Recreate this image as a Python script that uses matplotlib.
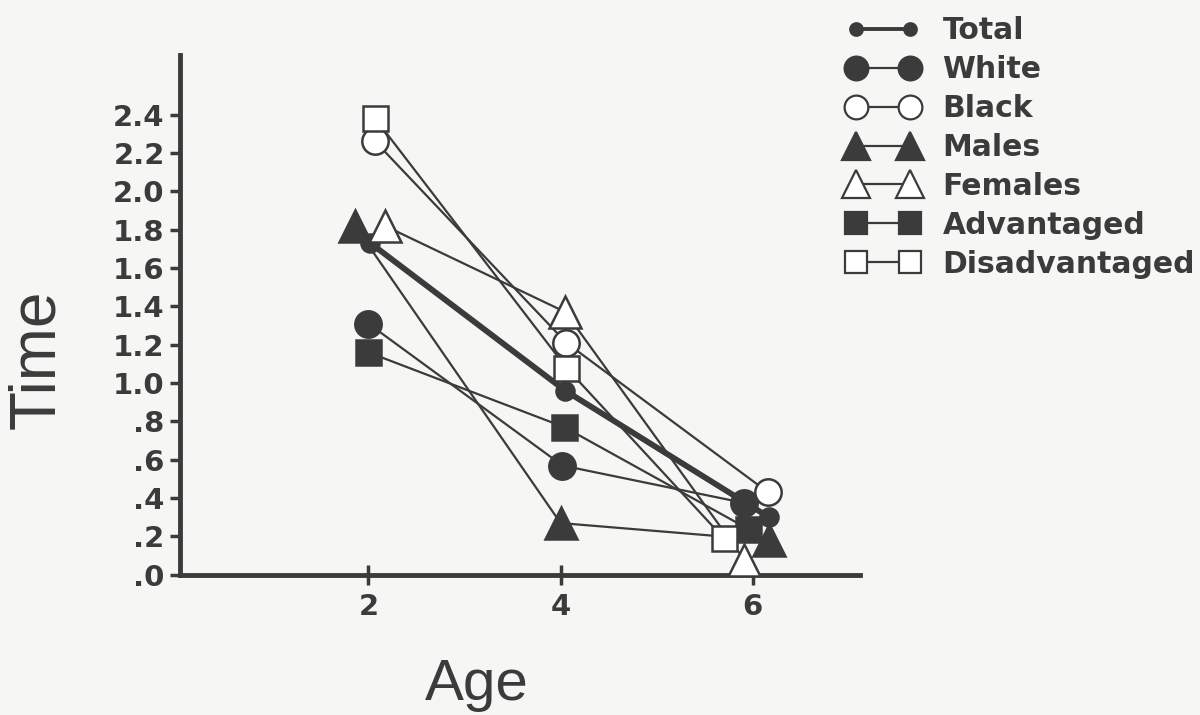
import matplotlib
matplotlib.use("Agg")
import matplotlib.pyplot as plt
from matplotlib.lines import Line2D

# Age groups and mean times per group
ages = [2, 4, 6]
total = [1.73, 0.96, 0.30]
white = [1.31, 0.57, 0.375]
black = [2.26, 1.21, 0.43]
males = [1.82, 0.27, 0.18]
females = [1.82, 1.37, 0.08]
advantaged = [1.16, 0.77, 0.24]
disadvantaged = [2.38, 1.08, 0.19]

y_ticks = [0.0, 0.2, 0.4, 0.6, 0.8, 1.0, 1.2, 1.4, 1.6, 1.8, 2.0, 2.2, 2.4]
y_tick_labels = [".0", ".2", ".4", ".6", ".8", "1.0", "1.2", "1.4", "1.6",
                 "1.8", "2.0", "2.2", "2.4"]
x_tick_labels = ["2", "4", "6"]

INK = "#3b3b3b"
PAPER = "#f6f6f4"

# horizontal nudges so overlapping markers stay visible
nudge = {
    "Total": [0.02, 0.05, 0.17],
    "White": [0.0, 0.02, -0.09],
    "Black": [0.07, 0.06, 0.16],
    "Males": [-0.14, 0.0, 0.17],
    "Females": [0.17, 0.05, -0.09],
    "Advantaged": [0.0, 0.04, -0.05],
    "Disadvantaged": [0.07, 0.06, -0.30],
}

series = [
    ("Total", total, dict(marker="o", ms=13, mfc=INK, lw=4.2, zorder=2.5)),
    ("White", white, dict(marker="o", ms=19, mfc=INK, lw=1.6, zorder=3)),
    ("Black", black, dict(marker="o", ms=19, mfc="white", lw=1.6, zorder=3)),
    ("Males", males, dict(marker="^", ms=23, mfc=INK, lw=1.6, zorder=3)),
    ("Females", females, dict(marker="^", ms=23, mfc="white", lw=1.6, zorder=3)),
    ("Advantaged", advantaged, dict(marker="s", ms=18, mfc=INK, lw=1.6, zorder=3)),
    ("Disadvantaged", disadvantaged, dict(marker="s", ms=18, mfc="white", lw=1.6, zorder=3)),
]

fig = plt.figure(figsize=(12, 7.15), dpi=100, facecolor=PAPER)
ax = fig.add_axes([0.15, 0.196, 0.567, 0.727])
ax.set_facecolor(PAPER)

handles = []
for name, vals, st in series:
    xs = [a + d for a, d in zip(ages, nudge[name])]
    ax.plot(xs, vals, color=INK, mec=INK, mew=1.8, marker=st["marker"],
            ms=st["ms"], mfc=st["mfc"], lw=st["lw"], zorder=st["zorder"])
    handles.append(Line2D([], [], color=INK, mec=INK, mew=1.6,
                          marker=st["marker"],
                          ms=9 if name == "Total" else st["ms"] * 0.9,
                          mfc=st["mfc"], lw=1.6 if name != "Total" else 2.8,
                          label=name))

ax.set_xlim(0.04, 7.12)
ax.set_ylim(0, 2.71)

for side in ("top", "right"):
    ax.spines[side].set_visible(False)
for side in ("left", "bottom"):
    ax.spines[side].set_linewidth(3.5)
    ax.spines[side].set_color(INK)

ax.set_xticks(ages)
ax.set_xticklabels(x_tick_labels)
ax.set_yticks(y_ticks)
ax.set_yticklabels(y_tick_labels)
ax.tick_params(axis="x", direction="inout", length=14, width=2.5, color=INK,
               labelsize=21, pad=6, labelcolor=INK)
ax.tick_params(axis="y", direction="out", length=7, width=2.5, color=INK,
               labelsize=21, pad=4, labelcolor=INK)
for lab in ax.get_xticklabels() + ax.get_yticklabels():
    lab.set_fontweight("bold")

fig.text(0.031, 0.497, "Time", rotation=90, ha="center", va="center",
         fontsize=46, color=INK, family="Liberation Sans")
fig.text(0.397, 0.021, "Age", ha="center", va="baseline",
         fontsize=42, color=INK, family="Liberation Sans")

leg = fig.legend(handles=handles, loc="upper left",
                 bbox_to_anchor=(0.692, 1.0), numpoints=2, frameon=False,
                 handlelength=2.4, handletextpad=0.8, labelspacing=0.33,
                 prop=dict(size=21.5, weight="bold"), borderaxespad=0.15)
for t in leg.get_texts():
    t.set_color(INK)

fig.savefig("out.png", dpi=100, facecolor=PAPER)
